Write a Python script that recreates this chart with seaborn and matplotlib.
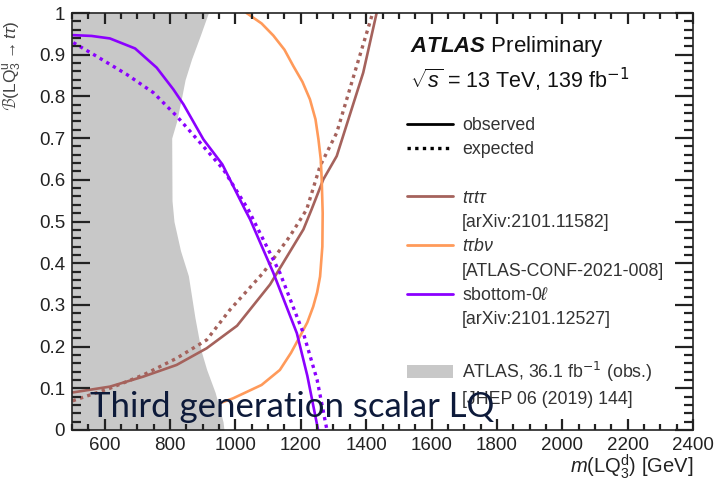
import numpy as np
import pandas as pd
import matplotlib
matplotlib.use("Agg")
import matplotlib.pyplot as plt
from matplotlib.lines import Line2D
from matplotlib.patches import Patch
import seaborn as sns

# ATLAS 36.1 fb-1 excluded region (right edge of grey band)
band_y = [0.0, 0.02, 0.09, 0.145, 0.19, 0.27, 0.37, 0.43, 0.50, 0.55, 0.70, 0.74, 0.80, 0.84, 0.89, 0.945, 1.0]
band_m = [965, 962, 938, 912, 895, 876, 856, 832, 812, 806, 805, 820, 836, 846, 866, 892, 917]

# sbottom-0l
sb_obs_m = [502, 560, 616, 693, 759, 810, 841, 902, 960, 1029, 1045, 1116, 1188, 1220, 1253]
sb_obs_b = [0.947, 0.945, 0.939, 0.915, 0.869, 0.817, 0.781, 0.697, 0.637, 0.529, 0.505, 0.377, 0.232, 0.13, 0.0]
sb_exp_m = [504, 565, 667, 749, 820, 892, 963, 1039, 1136, 1208, 1250, 1280]
sb_exp_b = [0.929, 0.901, 0.853, 0.809, 0.753, 0.689, 0.625, 0.529, 0.377, 0.232, 0.12, 0.0]

# t tau t tau
tt_obs_m = [502, 616, 718, 820, 912, 1005, 1106, 1208, 1233, 1269, 1310, 1391, 1432]
tt_obs_b = [0.090, 0.104, 0.128, 0.156, 0.196, 0.250, 0.349, 0.481, 0.529, 0.601, 0.657, 0.857, 1.0]
tt_exp_m = [502, 616, 718, 820, 912, 983, 1085, 1167, 1218, 1259, 1310, 1371, 1420]
tt_exp_b = [0.070, 0.100, 0.132, 0.172, 0.216, 0.288, 0.377, 0.465, 0.529, 0.633, 0.713, 0.873, 1.0]

# t tau b nu
tb_obs_m = [1034, 1080, 1116, 1150, 1177, 1205, 1228, 1245, 1254, 1261, 1264, 1267, 1266, 1259, 1250, 1238, 1220, 1197, 1170, 1136, 1080, 993, 955]
tb_obs_b = [1.0, 0.975, 0.946, 0.912, 0.873, 0.835, 0.793, 0.745, 0.697, 0.65, 0.601, 0.52, 0.44, 0.368, 0.33, 0.296, 0.258, 0.224, 0.185, 0.144, 0.108, 0.076, 0.065]

c_brown = "#a5625c"
c_orange = "#ff9a5a"
c_purple = "#8b00ff"
c_grey = "#c8c8c8"
c_axis = "#222222"

sns.set_theme(style="ticks")
plt.rcParams["font.family"] = ["Liberation Sans", "DejaVu Sans"]
plt.rcParams["mathtext.fontset"] = "custom"
plt.rcParams["mathtext.rm"] = "Liberation Sans"
plt.rcParams["mathtext.it"] = "Liberation Sans:italic"
plt.rcParams["mathtext.bf"] = "Liberation Sans:bold:italic"
plt.rcParams["axes.axisbelow"] = False

fig = plt.figure(figsize=(7.2, 4.82), dpi=100)
ax = fig.add_axes([0.1, 0.1079, 0.8625, 0.8651])

ax.fill_betweenx(band_y, 500, band_m, color=c_grey, linewidth=0, zorder=1)

dotted = (0, (1.0, 1.3))
lw = 1.9
sns.lineplot(x=tt_obs_m, y=tt_obs_b, sort=False, estimator=None, color=c_brown, lw=lw, ax=ax)
sns.lineplot(x=tt_exp_m, y=tt_exp_b, sort=False, estimator=None, color=c_brown, lw=2.4, ls=dotted, ax=ax)
sns.lineplot(x=tb_obs_m, y=tb_obs_b, sort=False, estimator=None, color=c_orange, lw=lw, ax=ax)
sns.lineplot(x=sb_obs_m, y=sb_obs_b, sort=False, estimator=None, color=c_purple, lw=lw, ax=ax)
sns.lineplot(x=sb_exp_m, y=sb_exp_b, sort=False, estimator=None, color=c_purple, lw=2.4, ls=dotted, ax=ax)

ax.set_xlim(500, 2400)
ax.set_ylim(0, 1)
ax.set_xticks(np.arange(600, 2401, 200))
ax.set_xticks(np.arange(500, 2401, 50), minor=True)
ax.set_yticks(np.arange(0, 1.01, 0.1))
ax.set_yticks(np.arange(0, 1.001, 0.02), minor=True)
ax.set_yticklabels(["0", "0.1", "0.2", "0.3", "0.4", "0.5", "0.6", "0.7", "0.8", "0.9", "1"])
ax.tick_params(which="both", direction="in", bottom=True, left=True, top=True, right=True,
               labelsize=13.5, color=c_axis, labelcolor="#222222", width=1.6)
ax.tick_params(axis="x", which="major", length=8, pad=5)
ax.tick_params(axis="x", which="minor", length=4.5)
ax.tick_params(axis="y", which="major", length=13, pad=5)
ax.tick_params(axis="y", which="minor", length=6.5)
for s in ax.spines.values():
    s.set_color(c_axis)
    s.set_linewidth(1.2)

ax.set_xlabel(r"$m(\mathrm{LQ}_3^{\mathrm{d}})$ [GeV]", fontsize=14.5, color="#222222")
ax.xaxis.set_label_coords(1.0, -0.089)
ax.xaxis.label.set_horizontalalignment("right")
ax.xaxis.label.set_verticalalignment("center")
ax.set_ylabel(r"$\mathcal{B}(\mathrm{LQ}_3^{\mathrm{u}} \rightarrow t\tau)$", fontsize=12.5, color="#444444")
ax.yaxis.set_label_coords(-0.078, 0.875)

ax.text(0.544, 0.919, r"$\mathbf{ATLAS}$ Preliminary", transform=ax.transAxes,
        fontsize=16, va="center", ha="left", color="#111111")
ax.text(0.544, 0.839, r"$\sqrt{s}$ = 13 TeV, 139 fb$^{\mathsf{-1}}$", transform=ax.transAxes,
        fontsize=15.5, va="center", ha="left", color="#111111")

blank = Line2D([], [], color="none")
handles = [
    Line2D([], [], color="black", lw=2),
    Line2D([], [], color="black", lw=2.4, ls=dotted),
    blank,
    Line2D([], [], color=c_brown, lw=2),
    blank,
    Line2D([], [], color=c_orange, lw=2),
    blank,
    Line2D([], [], color=c_purple, lw=2),
    blank,
    blank,
    Patch(facecolor=c_grey, edgecolor="none"),
    blank,
]
labels = [
    "observed",
    "expected",
    " ",
    r"$t\tau t\tau$",
    "[arXiv:2101.11582]",
    r"$t\tau b\nu$",
    "[ATLAS-CONF-2021-008]",
    r"sbottom-0$\ell$",
    "[arXiv:2101.12527]",
    " ",
    r"ATLAS, 36.1 fb$^{\mathsf{-1}}$ (obs.)",
    "[JHEP 06 (2019) 144]",
]
leg = ax.legend(handles, labels, loc="upper left", bbox_to_anchor=(0.539, 0.751),
                frameon=False, fontsize=12.8, handlelength=2.6, handletextpad=0.5,
                labelspacing=0.41, borderpad=0, borderaxespad=0)
for t in leg.get_texts():
    t.set_color("#333333")

fig.text(0.125, 0.135, "Third generation scalar LQ", fontsize=25, family=["Lato", "DejaVu Sans"],
         color="#0d1a3a", va="baseline", ha="left", zorder=10)

fig.savefig("out.png", dpi=100)
